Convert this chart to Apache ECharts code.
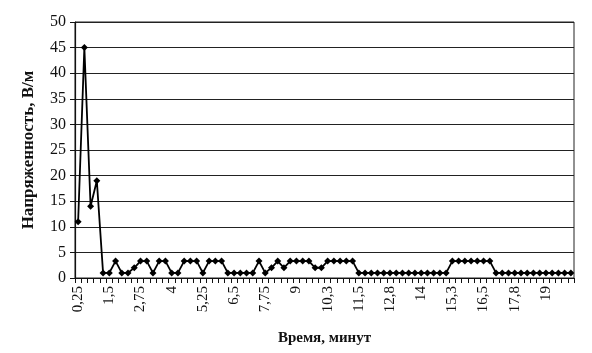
<!DOCTYPE html>
<html><head><meta charset="utf-8">
<script src="https://cdn.jsdelivr.net/npm/echarts@6/dist/echarts.min.js"></script>
<style>html,body{margin:0;padding:0;background:#fff}#c{width:592px;height:353px}</style>
</head><body><div id="c"></div>
<script>
var categories = ["0,25","0,5","0,75","1","1,25","1,5","1,75","2","2,25","2,5",
"2,75","3","3,25","3,5","3,75","4","4,25","4,5","4,75","5",
"5,25","5,5","5,75","6","6,25","6,5","6,75","7","7,25","7,5",
"7,75","8","8,25","8,5","8,75","9","9,25","9,5","9,75","10",
"10,3","10,5","10,8","11","11,3","11,5","11,8","12","12,3","12,5",
"12,8","13","13,3","13,5","13,8","14","14,3","14,5","14,8","15",
"15,3","15,5","15,8","16","16,3","16,5","16,8","17","17,3","17,5",
"17,8","18","18,3","18,5","18,8","19","19,3","19,5","19,8","20"];
var intensity = [11,45,14,19,1,1,3.3,1,1,2,
3.3,3.3,1,3.3,3.3,1,1,3.3,3.3,3.3,
1,3.3,3.3,3.3,1,1,1,1,1,3.3,
1,2,3.3,2,3.3,3.3,3.3,3.3,2,2,
3.3,3.3,3.3,3.3,3.3,1,1,1,1,1,
1,1,1,1,1,1,1,1,1,1,
3.3,3.3,3.3,3.3,3.3,3.3,3.3,1,1,1,
1,1,1,1,1,1,1,1,1,1];
var yMin = 0, yMax = 50, yStep = 5;
var xTitle = "Время, минут";
var yTitle = "Напряженность, В/м";

var chart = echarts.init(document.getElementById('c'), null, {renderer:'canvas'});
var serif = "'Liberation Serif','DejaVu Serif',serif";
chart.setOption({
  animation:false,
  backgroundColor:'#fff',
  grid:{left:75,right:18,top:22,bottom:75,show:true,borderColor:'#222',borderWidth:1},
  xAxis:{
    type:'category', data:categories, boundaryGap:true,
    name:xTitle, nameLocation:'middle', nameGap:53,
    nameTextStyle:{fontFamily:serif,fontWeight:'bold',fontSize:15,color:'#111'},
    axisLine:{lineStyle:{color:'#111',width:1.2}},
    axisTick:{show:true,interval:0,length:5,lineStyle:{color:'#111'}},
    axisLabel:{interval:4,rotate:90,fontFamily:serif,fontSize:15,color:'#111',margin:8},
    splitLine:{show:false}
  },
  yAxis:{
    type:'value', min:yMin, max:yMax, interval:yStep,
    name:yTitle, nameLocation:'middle', nameGap:38,
    nameTextStyle:{fontFamily:serif,fontWeight:'bold',fontSize:17,color:'#111'},
    axisLine:{show:true,lineStyle:{color:'#111',width:1.2}},
    axisTick:{show:true,length:5,lineStyle:{color:'#111'}},
    axisLabel:{fontFamily:serif,fontSize:16,color:'#111',margin:9},
    splitLine:{show:true,lineStyle:{color:'#222',width:1.2}}
  },
  series:[{
    type:'line', data:intensity, showAllSymbol:true,
    symbol:'diamond', symbolSize:7,
    lineStyle:{color:'#000',width:1.8},
    itemStyle:{color:'#000'}
  }]
});
</script></body></html>
